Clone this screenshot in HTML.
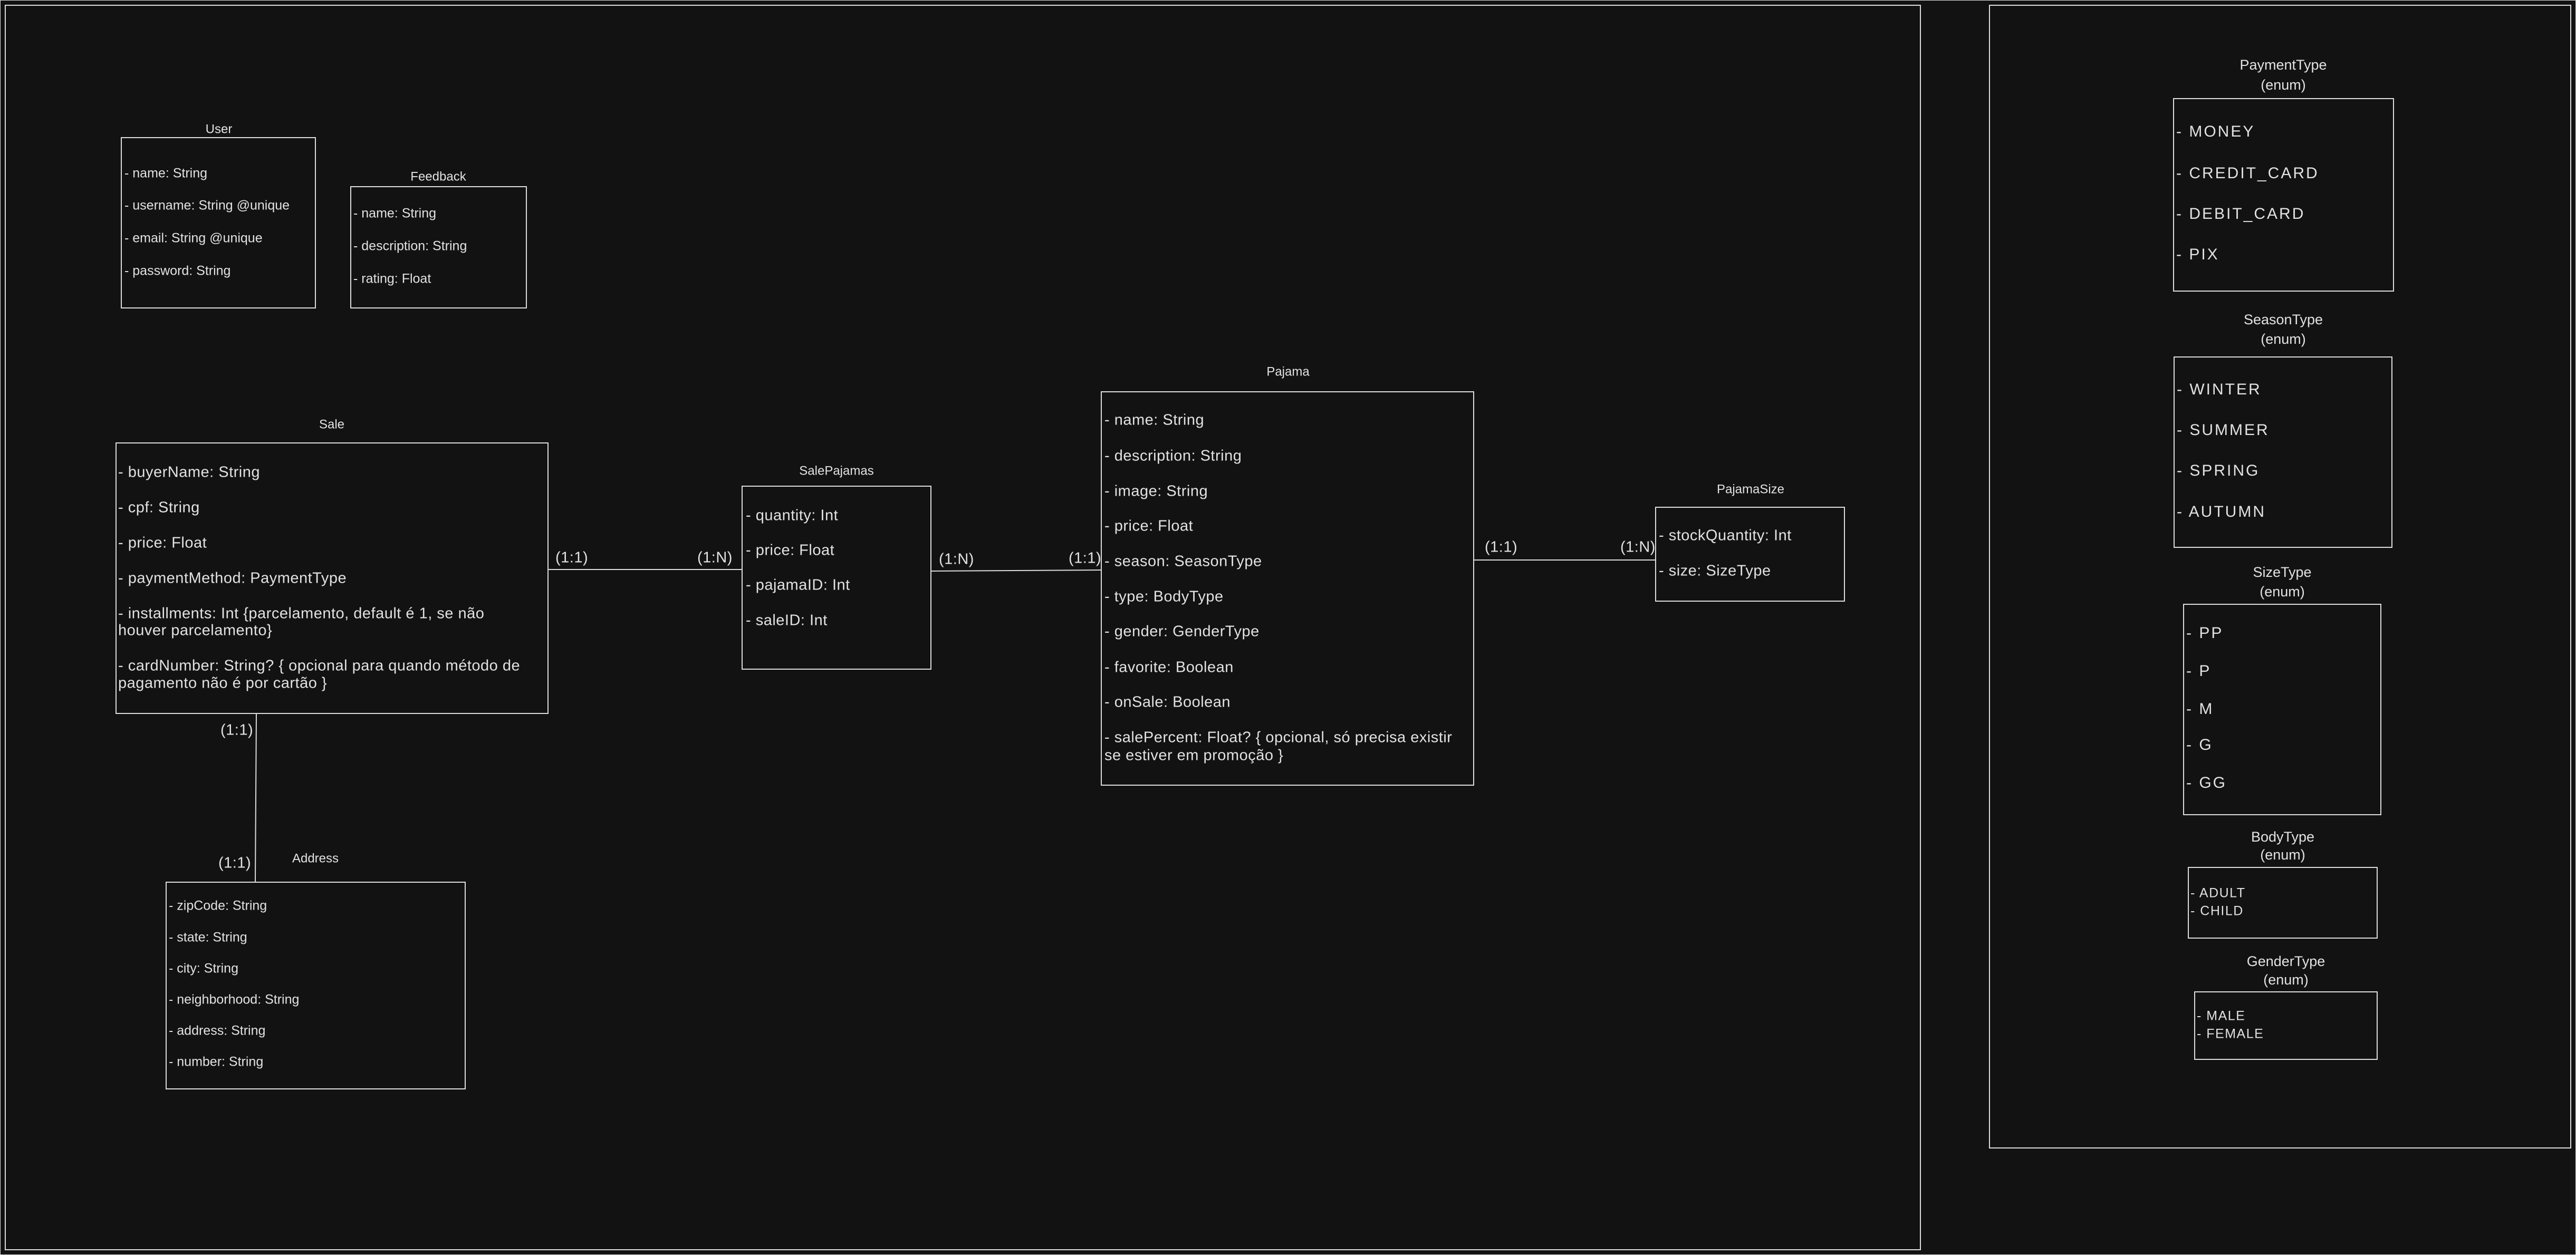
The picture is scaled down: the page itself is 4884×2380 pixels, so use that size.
<!DOCTYPE html>
<html><head><meta charset="utf-8"><style>
html,body{margin:0;padding:0;background:#121212;}
svg{display:block}
text{font-family:"Liberation Sans",sans-serif;fill:#e2e2e2;dominant-baseline:middle}
.s{font-size:25px}.m{font-size:29px;letter-spacing:0.5px}.e{font-size:30px;letter-spacing:3px}.t{font-size:24px;text-anchor:middle}.te{font-size:27px;text-anchor:middle}
.b{font-size:25px;letter-spacing:1.5px}
rect,line{stroke:#dcdcdc;fill:none;stroke-width:2}
</style></head><body>
<svg width="4884" height="2380" viewBox="0 0 4884 2380">
<rect x="0" y="0" width="4884" height="2380" fill="#121212" stroke="none"/>
<rect x="10" y="10" width="3631" height="2360"/>
<rect x="3772" y="10" width="1102" height="2167"/>

<!-- User -->
<text class="t" x="415" y="246">User</text>
<rect x="230" y="261" width="368" height="323"/>
<text class="s" x="236" y="330">- name: String</text>
<text class="s" x="236" y="391">- username: String @unique</text>
<text class="s" x="236" y="453">- email: String @unique</text>
<text class="s" x="236" y="515">- password: String</text>

<!-- Feedback -->
<text class="t" x="831" y="336">Feedback</text>
<rect x="665" y="354" width="333" height="230"/>
<text class="s" x="670" y="406">- name: String</text>
<text class="s" x="670" y="468">- description: String</text>
<text class="s" x="670" y="530">- rating: Float</text>

<!-- Sale -->
<text class="t" x="629" y="806">Sale</text>
<rect x="220" y="840" width="819" height="513"/>
<text class="m" x="224" y="897">- buyerName: String</text>
<text class="m" x="224" y="964">- cpf: String</text>
<text class="m" x="224" y="1031">- price: Float</text>
<text class="m" x="224" y="1098">- paymentMethod: PaymentType</text>
<text class="m" x="224" y="1165">- installments: Int {parcelamento, default é 1, se não</text>
<text class="m" x="224" y="1197">houver parcelamento}</text>
<text class="m" x="224" y="1264">- cardNumber: String? { opcional para quando método de</text>
<text class="m" x="224" y="1297">pagamento não é por cartão }</text>

<!-- SalePajamas -->
<text class="t" x="1586" y="894">SalePajamas</text>
<rect x="1407" y="922" width="358" height="347"/>
<text class="m" x="1414" y="979">- quantity: Int</text>
<text class="m" x="1414" y="1045">- price: Float</text>
<text class="m" x="1414" y="1111">- pajamaID: Int</text>
<text class="m" x="1414" y="1178">- saleID: Int</text>

<line x1="1039" y1="1080" x2="1407" y2="1080"/>
<text class="m" x="1053" y="1059">(1:1)</text>
<text class="m" x="1322" y="1059">(1:N)</text>

<line x1="1765" y1="1083" x2="2088" y2="1081"/>
<text class="m" x="1780" y="1062">(1:N)</text>
<text class="m" x="2026" y="1060">(1:1)</text>

<!-- Pajama -->
<text class="t" x="2442" y="706">Pajama</text>
<rect x="2088" y="743" width="706" height="746"/>
<text class="m" x="2094" y="798">- name: String</text>
<text class="m" x="2094" y="866">- description: String</text>
<text class="m" x="2094" y="933">- image: String</text>
<text class="m" x="2094" y="999">- price: Float</text>
<text class="m" x="2094" y="1066">- season: SeasonType</text>
<text class="m" x="2094" y="1133">- type: BodyType</text>
<text class="m" x="2094" y="1199">- gender: GenderType</text>
<text class="m" x="2094" y="1267">- favorite: Boolean</text>
<text class="m" x="2094" y="1333">- onSale: Boolean</text>
<text class="m" x="2094" y="1400">- salePercent: Float? { opcional, só precisa existir</text>
<text class="m" x="2094" y="1434">se estiver em promoção }</text>

<line x1="2794" y1="1062" x2="3139" y2="1062"/>
<text class="m" x="2815" y="1039">(1:1)</text>
<text class="m" x="3072" y="1039">(1:N)</text>

<!-- PajamaSize -->
<text class="t" x="3319" y="929">PajamaSize</text>
<rect x="3139" y="962" width="358" height="178"/>
<text class="m" x="3145" y="1017">- stockQuantity: Int</text>
<text class="m" x="3145" y="1084">- size: SizeType</text>

<!-- Address -->
<line x1="486" y1="1353" x2="484" y2="1673"/>
<text class="m" x="418" y="1386">(1:1)</text>
<text class="m" x="414" y="1638">(1:1)</text>
<text class="t" x="598" y="1629">Address</text>
<rect x="315" y="1673" width="567" height="392"/>
<text class="s" x="320" y="1719">- zipCode: String</text>
<text class="s" x="320" y="1779">- state: String</text>
<text class="s" x="320" y="1838">- city: String</text>
<text class="s" x="320" y="1897">- neighborhood: String</text>
<text class="s" x="320" y="1956">- address: String</text>
<text class="s" x="320" y="2015">- number: String</text>

<!-- Enums -->
<text class="te" x="4329" y="125">PaymentType</text>
<text class="te" x="4329" y="163">(enum)</text>
<rect x="4121" y="187" width="417" height="365"/>
<text class="e" x="4126" y="251">- MONEY</text>
<text class="e" x="4126" y="330">- CREDIT_CARD</text>
<text class="e" x="4126" y="407">- DEBIT_CARD</text>
<text class="e" x="4126" y="484">- PIX</text>

<text class="te" x="4329" y="608">SeasonType</text>
<text class="te" x="4329" y="645">(enum)</text>
<rect x="4122" y="677" width="413" height="361"/>
<text class="e" x="4127" y="740">- WINTER</text>
<text class="e" x="4127" y="817">- SUMMER</text>
<text class="e" x="4127" y="894">- SPRING</text>
<text class="e" x="4127" y="972">- AUTUMN</text>

<text class="te" x="4327" y="1087">SizeType</text>
<text class="te" x="4327" y="1124">(enum)</text>
<rect x="4140" y="1146" width="374" height="399"/>
<text class="e" x="4145" y="1202">- PP</text>
<text class="e" x="4145" y="1274">- P</text>
<text class="e" x="4145" y="1346">- M</text>
<text class="e" x="4145" y="1414">- G</text>
<text class="e" x="4145" y="1486">- GG</text>

<text class="te" x="4328" y="1589">BodyType</text>
<text class="te" x="4328" y="1623">(enum)</text>
<rect x="4149" y="1645" width="358" height="134"/>
<text class="b" x="4153" y="1695">- ADULT</text>
<text class="b" x="4153" y="1729">- CHILD</text>

<text class="te" x="4334" y="1825">GenderType</text>
<text class="te" x="4334" y="1860">(enum)</text>
<rect x="4161" y="1881" width="346" height="128"/>
<text class="b" x="4165" y="1928">- MALE</text>
<text class="b" x="4165" y="1962">- FEMALE</text>
</svg>
</body></html>
